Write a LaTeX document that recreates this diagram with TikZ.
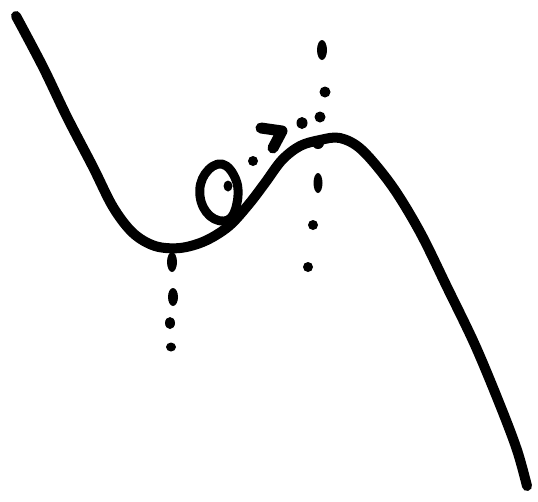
\documentclass[tikz,border=0pt]{standalone}
\begin{document}
\begin{tikzpicture}[x=1pt,y=-1pt,
  pen/.style={line width=10pt,line cap=round,line join=round,black},
  blob/.style={fill=black}]
\useasboundingbox (0,0) rectangle (538,501);
% main curve
\draw[pen] plot[smooth,tension=0.55] coordinates {
 (16,16) (43,67) (67,117) (93,167) (113,207) (133,233) (155,246) (180,248)
 (205,241) (229,226) (249,204) (265,183) (282,160) (300,146) (320,140) (340,138)
 (362,150) (392,186) (420,232) (447,287) (475,345) (500,405) (517,450) (527,486)};
% loop
\draw[pen,line width=9pt] plot[smooth cycle,tension=0.7] coordinates {
 (236,180) (222,164) (205,174) (200,196) (210,216) (228,220) (237,203)};
% left vertical dotted line
\fill[blob] (172,262) ellipse (5 and 10);
\fill[blob] (173,297) ellipse (5 and 9);
\fill[blob] (170,323) ellipse (5 and 6);
\fill[blob] (171,347) ellipse (5 and 4.5);
% right vertical dotted line
\fill[blob] (322,50) ellipse (5 and 10);
\fill[blob] (325,92) ellipse (5.5 and 5.5);
\fill[blob] (320,117) ellipse (5.5 and 5.5);
\fill[blob] (318,143) ellipse (6 and 6);
\fill[blob] (318,183) ellipse (4.5 and 10);
\fill[blob] (313,225) ellipse (5 and 5);
\fill[blob] (308,267) ellipse (5 and 5);
% diagonal dotted line
\fill[blob] (302,123) ellipse (5.5 and 6);
\draw[pen,line width=11pt] (261,128) -- (282,131) -- (273,148);
\fill[blob] (253,161) ellipse (5 and 5);
\fill[blob] (228,186) ellipse (4.5 and 5.5);
\end{tikzpicture}
\end{document}
